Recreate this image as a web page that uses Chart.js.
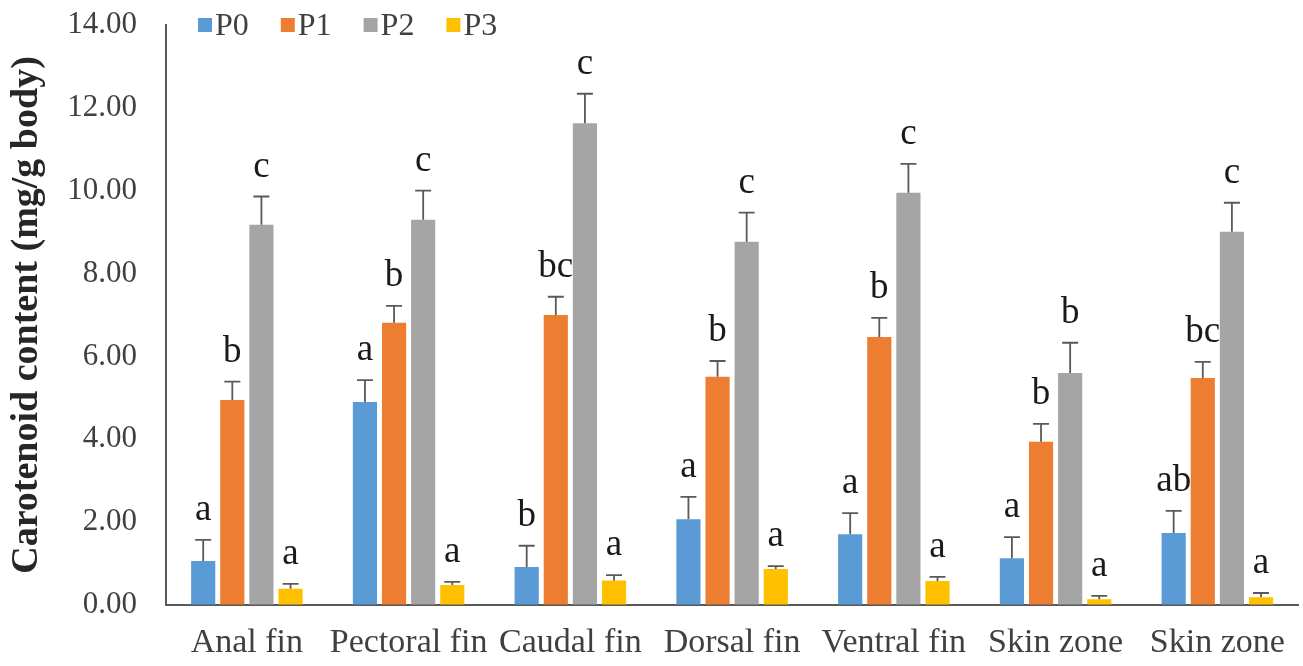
<!DOCTYPE html>
<html>
<head>
<meta charset="utf-8">
<script src="https://cdn.jsdelivr.net/npm/chart.js@4/dist/chart.umd.min.js"></script>
<style>
  html, body { margin: 0; padding: 0; background: #ffffff; }
  #wrap { width: 1303px; height: 666px; }
</style>
</head>
<body>
<div id="wrap"><canvas id="chart" width="1303" height="666"></canvas></div>
<script>
// Tissue categories along the x axis
const categories = ['Anal fin', 'Pectoral fin', 'Caudal fin', 'Dorsal fin', 'Ventral fin', 'Skin zone', 'Skin zone'];

// Series names
const seriesNames = ['P0', 'P1', 'P2', 'P3'];

// Mean carotenoid content (mg/g body)
const p0Values = [1.06, 4.90, 0.92, 2.07, 1.71, 1.13, 1.74];
const p1Values = [4.95, 6.81, 7.00, 5.51, 6.47, 3.94, 5.48];
const p2Values = [9.18, 9.30, 11.63, 8.77, 9.95, 5.60, 9.01];
const p3Values = [0.39, 0.48, 0.59, 0.87, 0.58, 0.14, 0.19];

// Standard deviations (upper error bars)
const p0Errors = [0.51, 0.53, 0.51, 0.54, 0.51, 0.51, 0.53];
const p1Errors = [0.44, 0.41, 0.44, 0.38, 0.46, 0.43, 0.39];
const p2Errors = [0.68, 0.70, 0.71, 0.70, 0.70, 0.73, 0.70];
const p3Errors = [0.12, 0.08, 0.13, 0.07, 0.10, 0.08, 0.10];

// Significance letters above each bar
const p0Letters = ['a', 'a', 'b', 'a', 'a', 'a', 'ab'];
const p1Letters = ['b', 'b', 'bc', 'b', 'b', 'b', 'bc'];
const p2Letters = ['c', 'c', 'c', 'c', 'c', 'b', 'c'];
const p3Letters = ['a', 'a', 'a', 'a', 'a', 'a', 'a'];

// Y axis range and tick step
const yMin = 0;
const yMax = 14;
const yStep = 2;

const colors = ['#5B9BD5', '#ED7D31', '#A5A5A5', '#FFC000'];
const valueSets = [p0Values, p1Values, p2Values, p3Values];
const errorSets = [p0Errors, p1Errors, p2Errors, p3Errors];
const letterSets = [p0Letters, p1Letters, p2Letters, p3Letters];

const SERIF = '"Liberation Serif", "Times New Roman", serif';
const TEXT = '#404040';

// Error bars and letters drawn on top of each bar
const errorBarPlugin = {
  id: 'errorBars',
  afterDatasetsDraw(chart) {
    const ctx = chart.ctx;
    const yScale = chart.scales.y;
    ctx.save();
    chart.data.datasets.forEach((ds, di) => {
      const meta = chart.getDatasetMeta(di);
      meta.data.forEach((bar, i) => {
        const v = ds.data[i];
        const top = v + ds.errors[i];
        const yBar = yScale.getPixelForValue(v);
        const yTop = yScale.getPixelForValue(top);
        ctx.strokeStyle = '#595959';
        ctx.lineWidth = 1.8;
        ctx.beginPath();
        ctx.moveTo(bar.x, yBar);
        ctx.lineTo(bar.x, yTop);
        ctx.moveTo(bar.x - 8, yTop);
        ctx.lineTo(bar.x + 8, yTop);
        ctx.stroke();
        ctx.fillStyle = '#1a1a1a';
        ctx.font = '37px ' + SERIF;
        ctx.textAlign = 'center';
        ctx.textBaseline = 'alphabetic';
        ctx.fillText(ds.letters[i], bar.x, yTop - 20);
      });
    });
    ctx.restore();
  }
};

// Legend drawn inside the top of the plot area
const legendPlugin = {
  id: 'topLegend',
  afterDraw(chart) {
    const ctx = chart.ctx;
    ctx.save();
    ctx.font = '32px ' + SERIF;
    ctx.textBaseline = 'middle';
    ctx.textAlign = 'left';
    let x = 198;
    const cy = 26;
    chart.data.datasets.forEach((ds) => {
      ctx.fillStyle = ds.backgroundColor;
      ctx.fillRect(x, cy - 8, 14, 14);
      x += 17;
      ctx.fillStyle = TEXT;
      ctx.fillText(ds.label, x, cy + 1);
      x += ctx.measureText(ds.label).width + 32;
    });
    ctx.restore();
  }
};

const datasets = seriesNames.map((name, k) => ({
  label: name,
  data: valueSets[k],
  errors: errorSets[k],
  letters: letterSets[k],
  backgroundColor: colors[k],
  borderWidth: 0,
  categoryPercentage: 0.72,
  barPercentage: 0.83
}));

new Chart(document.getElementById('chart'), {
  type: 'bar',
  data: { labels: categories, datasets },
  options: {
    responsive: false,
    animation: false,
    devicePixelRatio: 1,
    layout: { padding: { top: 25, right: 2, left: 0, bottom: 0 } },
    plugins: {
      legend: { display: false },
      tooltip: { enabled: false }
    },
    scales: {
      x: {
        grid: { display: false, drawTicks: false },
        border: { display: true, color: '#595959', width: 2 },
        ticks: {
          color: TEXT,
          font: { family: SERIF, size: 34 },
          padding: 18,
          maxRotation: 0,
          autoSkip: false
        },
        afterFit(scale) { scale.height = 61; }
      },
      y: {
        min: yMin,
        max: yMax,
        // invisible tick marks keep the labels away from the axis line
        grid: {
          display: true,
          drawOnChartArea: false,
          drawTicks: true,
          tickLength: 29,
          tickColor: 'rgba(0,0,0,0)'
        },
        border: { display: true, color: '#595959', width: 2 },
        ticks: {
          stepSize: yStep,
          color: TEXT,
          font: { family: SERIF, size: 31 },
          padding: 0,
          callback: (v) => Number(v).toFixed(2)
        },
        title: {
          display: true,
          text: 'Carotenoid content (mg/g body)',
          color: '#262626',
          font: { family: SERIF, size: 38, weight: 'bold' },
          padding: { top: 4, bottom: 0 }
        },
        afterFit(scale) { scale.width = 166; }
      }
    }
  },
  plugins: [errorBarPlugin, legendPlugin]
});
</script>
</body>
</html>
